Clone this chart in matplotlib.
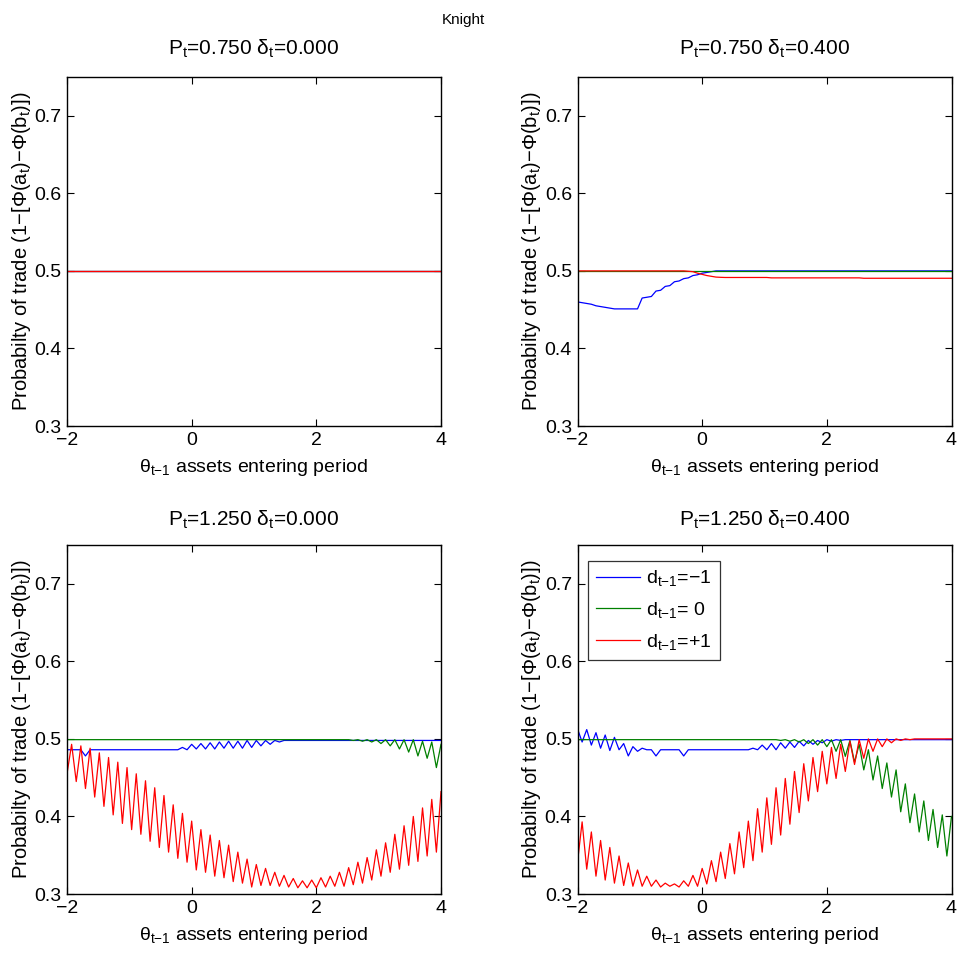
import numpy as np
import matplotlib
matplotlib.use("Agg")
import matplotlib.pyplot as plt

plt.rcParams['font.family'] = ['Liberation Sans', 'DejaVu Sans']
plt.rcParams['mathtext.default'] = 'regular'

# theta grid shared by every panel (82 points from -2 to 4)
theta = np.linspace(-2, 4, 82)

panel_titles = [
    r'$P_t$=0.750 $\delta_t$=0.000',
    r'$P_t$=0.750 $\delta_t$=0.400',
    r'$P_t$=1.250 $\delta_t$=0.000',
    r'$P_t$=1.250 $\delta_t$=0.400',
]
legend_labels = [r'$d_{t{-}1}$=$-$1', r'$d_{t{-}1}$= 0', r'$d_{t{-}1}$=+1']
line_colors = ['#0000ff', '#008000', '#ff0000']
xticks = [-2, 0, 2, 4]
yticks = [0.3, 0.4, 0.5, 0.6, 0.7]

# P=0.75, delta=0: all three lie on 0.5
tl_minus = [0.500] * 82
tl_zero = [0.500] * 82
tl_plus = [0.500] * 82

# P=0.75, delta=0.4
tr_minus = [0.460, 0.459, 0.458, 0.457, 0.455, 0.454, 0.453, 0.452, 0.451, 0.451,
            0.451, 0.451, 0.451, 0.451, 0.465, 0.466, 0.467, 0.474, 0.475, 0.480,
            0.481, 0.486, 0.487, 0.490, 0.491, 0.494, 0.495, 0.497, 0.498, 0.499] + [0.500] * 52
tr_zero = [0.500] * 82
tr_plus = ([0.500] * 24
           + [0.4995, 0.499, 0.497, 0.4955, 0.494, 0.493, 0.492, 0.4917]
           + [0.4915] * 10 + [0.491] * 20 + [0.4905] * 20)

# P=1.25 panels oscillate point to point: even-index and odd-index samples
bl_minus_even = ([0.486, 0.486, 0.478] + [0.486] * 11
                 + [0.487, 0.487, 0.487, 0.488, 0.488, 0.488, 0.489, 0.491, 0.493, 0.496]
                 + [0.498] * 17)
bl_minus_odd = ([0.486] * 12
                + [0.489, 0.493, 0.494, 0.495, 0.496, 0.497, 0.497, 0.498]
                + [0.498] * 21)
bl_zero_even = [0.499] * 31 + [0.498, 0.497, 0.496, 0.494, 0.491, 0.487, 0.483, 0.478, 0.475, 0.463]
bl_zero_odd = [0.499] * 38 + [0.497, 0.496, 0.493]
bl_plus_even = [0.455, 0.445, 0.436, 0.425, 0.413, 0.402, 0.391, 0.383, 0.377, 0.368,
                0.360, 0.354, 0.346, 0.341, 0.331, 0.328, 0.323, 0.321, 0.316, 0.314,
                0.309, 0.311, 0.311, 0.310, 0.309, 0.308, 0.308, 0.308, 0.309, 0.310,
                0.310, 0.312, 0.314, 0.318, 0.323, 0.328, 0.332, 0.337, 0.342, 0.349,
                0.354]
bl_plus_odd = [0.493, 0.491, 0.488, 0.482, 0.476, 0.470, 0.463, 0.455, 0.446, 0.437,
               0.427, 0.415, 0.404, 0.394, 0.383, 0.376, 0.369, 0.363, 0.354, 0.345,
               0.338, 0.333, 0.328, 0.324, 0.320, 0.317, 0.318, 0.321, 0.323, 0.328,
               0.334, 0.341, 0.347, 0.357, 0.366, 0.377, 0.388, 0.400, 0.411, 0.422,
               0.432]

br_minus_even = ([0.513, 0.512, 0.508, 0.505, 0.502, 0.494, 0.490, 0.488] + [0.486] * 11
                 + [0.488, 0.492, 0.494, 0.495, 0.496, 0.497, 0.498, 0.498] + [0.499] * 14)
br_minus_odd = ([0.496, 0.492, 0.488, 0.485, 0.486, 0.478, 0.484, 0.486, 0.478, 0.486,
                 0.486, 0.478] + [0.486] * 10
                + [0.488, 0.489, 0.491, 0.493, 0.495, 0.497, 0.498] + [0.499] * 12)
br_zero_even = [0.499] * 22 + [0.498, 0.497, 0.496, 0.494, 0.492, 0.490, 0.484, 0.4775,
                               0.470, 0.460, 0.447, 0.436, 0.425, 0.406, 0.392, 0.380,
                               0.369, 0.360, 0.349]
br_zero_odd = [0.499] * 29 + [0.498, 0.493, 0.486, 0.478, 0.469, 0.460, 0.442, 0.429,
                              0.420, 0.409, 0.402, 0.400]
br_plus_even = [0.341, 0.332, 0.323, 0.318, 0.314, 0.311, 0.310, 0.310, 0.310, 0.309,
                0.310, 0.309, 0.310, 0.310, 0.313, 0.316, 0.320, 0.326, 0.334, 0.343,
                0.354, 0.364, 0.376, 0.390, 0.405, 0.420, 0.432, 0.442, 0.449, 0.458,
                0.467, 0.475, 0.484, 0.490, 0.495, 0.498, 0.499, 0.500, 0.500, 0.500,
                0.500]
br_plus_odd = [0.393, 0.380, 0.369, 0.360, 0.349, 0.340, 0.331, 0.323, 0.318, 0.314,
               0.313, 0.317, 0.324, 0.333, 0.343, 0.354, 0.365, 0.380, 0.394, 0.410,
               0.424, 0.437, 0.449, 0.458, 0.468, 0.476, 0.484, 0.489, 0.493, 0.497,
               0.499] + [0.500] * 10


def weave(even, odd):
    out = np.empty(len(even) + len(odd))
    out[0::2] = even
    out[1::2] = odd
    return out


series = [
    [tl_minus, tl_zero, tl_plus],
    [tr_minus, tr_zero, tr_plus],
    [weave(bl_minus_even, bl_minus_odd), weave(bl_zero_even, bl_zero_odd),
     weave(bl_plus_even, bl_plus_odd)],
    [weave(br_minus_even, br_minus_odd), weave(br_zero_even, br_zero_odd),
     weave(br_plus_even, br_plus_odd)],
]

W, H = 957, 955
fig = plt.figure(figsize=(W / 100, H / 100), dpi=100)
col_x = [67, 577.5]
row_top = [77, 545]
ax_w, ax_h = 374, 349
title_pad = [16, 14]

for n in range(4):
    r, c = divmod(n, 2)
    ax = fig.add_axes([col_x[c] / W, 1 - (row_top[r] + ax_h) / H, ax_w / W, ax_h / H])
    for ys, col, lab in zip(series[n], line_colors, legend_labels):
        ax.plot(theta, ys, color=col, lw=0.9, label=lab)
    ax.set_xlim(-2, 4)
    ax.set_ylim(0.3, 0.75)
    ax.set_xticks(xticks)
    ax.set_yticks(yticks)
    ax.set_xticklabels([str(t).replace('-', '\u2212') for t in xticks])
    ax.tick_params(direction='in', top=True, right=True, length=5, width=0.8,
                   labelsize=14, pad=4)
    for s in ax.spines.values():
        s.set_linewidth(1.0)
    ax.set_title(panel_titles[n], fontsize=15, pad=title_pad[r])
    ax.set_xlabel(r'$\theta_{t{-}1}$ assets entering period', fontsize=14, labelpad=6)
    ax.set_ylabel('Probabilty of trade (1\u2212[\u03a6(a$_t$)\u2212\u03a6(b$_t$)])',
                  fontsize=14.5, labelpad=1)
    if n == 3:
        leg = ax.legend(loc='upper left', fontsize=14, frameon=True, fancybox=False,
                        edgecolor='black', handlelength=2.3, handletextpad=0.3,
                        borderpad=0.4, labelspacing=0.6, borderaxespad=0,
                        bbox_to_anchor=(0.028, 0.955))
        leg.get_frame().set_linewidth(0.9)

fig.text(0.484, 1 - 20 / H, 'Knight', ha='center', va='center', fontsize=11)

fig.savefig('out.png', dpi=100)
